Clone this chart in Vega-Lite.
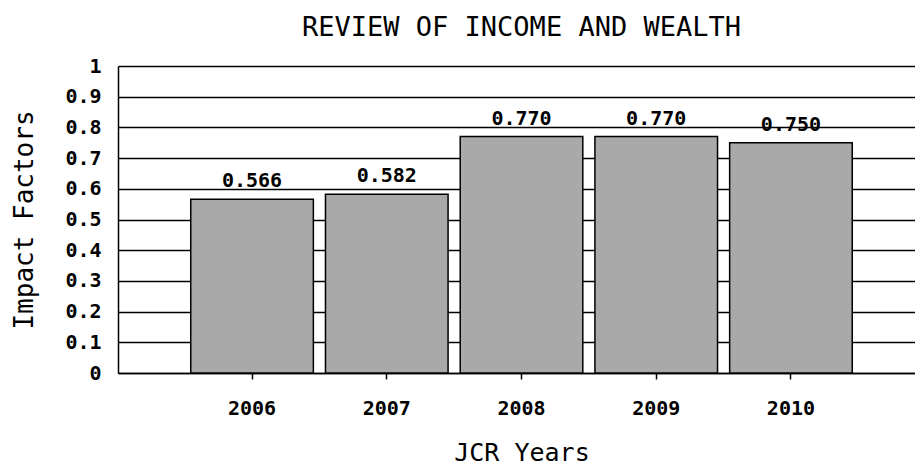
{
  "$schema": "https://vega.github.io/schema/vega-lite/v6.json",
  "autosize": "none",
  "padding": {"left": 118, "top": 66, "right": 0, "bottom": 95},
  "width": 797,
  "height": 307,
  "background": "white",
  "title": {
    "text": "REVIEW OF INCOME AND WEALTH",
    "font": "DejaVu Sans Mono",
    "fontSize": 27,
    "fontWeight": "normal",
    "color": "black",
    "anchor": "middle",
    "dx": 5,
    "offset": 14
  },
  "config": {
    "view": {"stroke": null},
    "axis": {"domainColor": "black", "tickColor": "black", "gridColor": "black", "gridOpacity": 1}
  },
  "data": {
    "values": [
      {"year": "2006", "value": 0.566},
      {"year": "2007", "value": 0.582},
      {"year": "2008", "value": 0.770},
      {"year": "2009", "value": 0.770},
      {"year": "2010", "value": 0.750}
    ]
  },
  "encoding": {
    "x": {
      "field": "year",
      "type": "ordinal",
      "scale": {"range": [0, 807], "paddingInner": 0.09, "paddingOuter": 0.54},
      "axis": {
        "title": "JCR Years",
        "titleFont": "DejaVu Sans Mono",
        "titleFontSize": 25,
        "titleFontWeight": "normal",
        "titleColor": "black",
        "titlePadding": 22,
        "labelFont": "DejaVu Sans Mono",
        "labelFontSize": 20,
        "labelFontWeight": "bold",
        "labelColor": "black",
        "labelAngle": 0,
        "labelPadding": 19,
        "tickSize": 6,
        "tickWidth": 1.5,
        "domainWidth": 1.5,
        "grid": false
      }
    },
    "y": {
      "field": "value",
      "type": "quantitative",
      "scale": {"domain": [0, 1], "nice": false},
      "axis": {
        "title": "Impact Factors",
        "titleFont": "DejaVu Sans Mono",
        "titleFontSize": 26,
        "titleFontWeight": "normal",
        "titleColor": "black",
        "titlePadding": 27,
        "values": [0, 0.1, 0.2, 0.3, 0.4, 0.5, 0.6, 0.7, 0.8, 0.9, 1],
        "labelExpr": "datum.value == 0 ? '0' : datum.value == 1 ? '1' : format(datum.value, '.1f')",
        "labelFont": "DejaVu Sans Mono",
        "labelFontSize": 20,
        "labelFontWeight": "bold",
        "labelColor": "black",
        "labelPadding": 17,
        "ticks": false,
        "domainWidth": 1.5,
        "grid": true,
        "gridWidth": 1.5
      }
    }
  },
  "layer": [
    {
      "mark": {"type": "bar", "fill": "#a9a9a9", "stroke": "black", "strokeWidth": 1.5}
    },
    {
      "mark": {"type": "text", "baseline": "alphabetic", "dy": -12, "font": "DejaVu Sans Mono", "fontSize": 20, "fontWeight": "bold", "color": "black"},
      "encoding": {
        "text": {"field": "value", "type": "quantitative", "format": ".3f"}
      }
    }
  ]
}
